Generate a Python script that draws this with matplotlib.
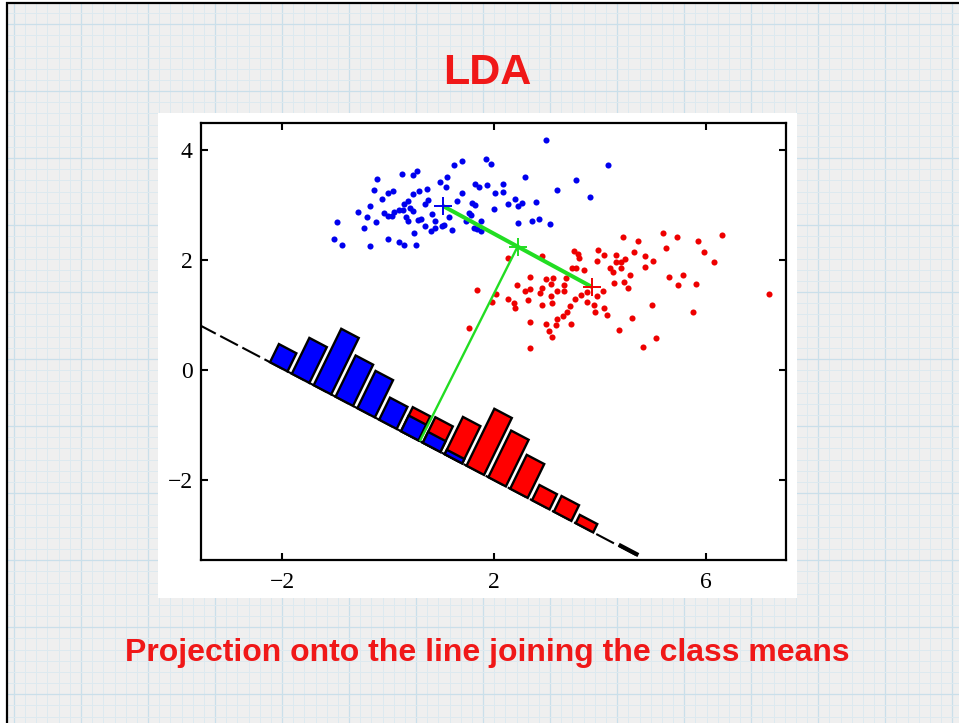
import numpy as np
import matplotlib
matplotlib.use("Agg")
import matplotlib.pyplot as plt
from matplotlib.patches import Polygon

# ---------------- data ----------------
blue_x = [1.39, 1.25, -0.20, 0.27, 0.47, 0.55, 0.98, 1.11, -0.26, -0.01, 0.09, -0.11, 0.48, 0.58,
          0.74, 1.09, -0.35, -0.57, -0.40, -0.23, -0.08, -0.01, 0.07, 0.12, 0.21, 0.28, 0.31, 0.38,
          0.41, 0.47, 0.33, 0.37, 0.56, 0.62, 0.69, 0.75, 0.82, 0.89, 1.15, 1.30, 1.40, 1.53, 1.48,
          -0.96, -0.45, 0.69, 0.81, 0.89, 1.01, 1.06, 1.21, 0.49, -1.02, -0.86, -0.34, 0.00, 0.20,
          0.30, 0.52,
          2.98, 1.85, 1.94, 4.16, 2.58, 3.55, 1.64, 1.72, 1.86, 2.16, 2.02, 2.16, 3.19, 3.81, 2.40,
          2.27, 2.46, 2.53, 2.79, 1.58, 1.65, 1.99, 1.57, 1.76, 2.46, 2.72, 2.85, 3.05, 1.62, 1.75,
          1.67]
blue_y = [3.80, 3.72, 3.48, 3.56, 3.55, 3.62, 3.42, 3.51, 3.27, 3.22, 3.25, 3.11, 3.20, 3.26,
          3.29, 3.33, 2.99, 2.88, 2.78, 2.70, 2.85, 2.80, 2.80, 2.87, 2.91, 2.91, 3.01, 3.08,
          2.95, 2.90, 2.78, 2.71, 2.73, 2.75, 3.01, 3.10, 2.84, 2.71, 2.78, 3.07, 3.21, 2.86, 2.71,
          2.69, 2.58, 2.62, 2.52, 2.58, 2.62, 2.64, 2.55, 2.50, 2.39, 2.28, 2.25, 2.38, 2.32,
          2.28, 2.27,
          4.18, 3.84, 3.74, 3.72, 3.51, 3.45, 3.39, 3.33, 3.36, 3.39, 3.21, 3.23, 3.27, 3.15, 3.11,
          3.02, 2.98, 3.03, 3.05, 3.04, 3.00, 2.92, 2.82, 2.71, 2.67, 2.71, 2.74, 2.66, 2.59, 2.53,
          2.57]

red_x = [2.27, 2.91, 3.51, 3.59, 3.97, 4.08, 4.31, 3.95, 3.60, 3.47, 3.55, 3.70, 4.18, 4.25, 4.31,
         2.67, 2.98, 3.12, 3.36, 2.44, 2.58, 2.68, 2.90, 3.07, 3.18, 3.32, 3.32, 2.87, 3.07, 3.64,
         3.76, 3.94, 4.05, 4.26, 1.67, 2.03, 1.97, 2.27, 2.38, 2.40, 2.64, 2.91, 3.10, 3.43, 3.37,
         3.31, 3.52, 3.76, 3.89, 3.91, 4.08, 4.13, 3.19, 3.17, 2.99, 3.04, 3.09, 3.45, 2.67, 1.53,
         2.68,
         4.44, 4.72, 5.18, 5.45, 5.85, 6.31, 5.24, 5.97, 4.65, 4.84, 5.00, 6.15, 4.48, 4.40, 4.40,
         4.85, 4.57, 5.30, 5.57, 5.48, 5.82, 4.46, 4.52, 7.19, 4.99, 5.75, 4.61, 4.36, 5.05, 4.82]
red_y = [2.03, 2.08, 2.17, 2.11, 2.19, 2.10, 2.10, 1.98, 2.04, 1.85, 1.86, 1.82, 1.86, 1.78, 1.96,
         1.69, 1.65, 1.67, 1.68, 1.55, 1.44, 1.47, 1.50, 1.56, 1.44, 1.55, 1.44, 1.41, 1.35, 1.36,
         1.42, 1.35, 1.44, 1.58, 1.45, 1.38, 1.24, 1.29, 1.22, 1.12, 1.27, 1.18, 1.22, 1.16, 1.05,
         0.99, 1.29, 1.23, 1.19, 1.06, 1.13, 1.00, 0.93, 0.82, 0.84, 0.71, 0.60, 0.84, 0.88, 0.77,
         0.41,
         2.41, 2.35, 2.49, 2.42, 2.35, 2.46, 2.22, 2.14, 2.15, 2.08, 1.99, 1.96, 2.02, 1.97, 1.86,
         1.87, 1.73, 1.70, 1.73, 1.54, 1.56, 1.60, 1.50, 1.38, 1.18, 1.06, 0.95, 0.73, 0.59, 0.42]

blue_mean = (1.04, 2.98)
red_mean = (3.85, 1.51)
proj_foot = (0.60, -1.29)      # where the green perpendicular meets the projection line
proj_slope = -0.507            # slope of the projection line
proj_end = 4.60                # end of the dashed line (distance along the line from the foot)

bin_start = -3.17              # along-line position of the first bin
bin_step = 0.462
bar_width = 0.37
blue_hist = [0.37, 0.73, 1.15, 0.84, 0.76, 0.45, 0.32, 0.22, 0.09, 0, 0, 0, 0, 0, 0, 0, 0]
red_hist = [0, 0, 0, 0, 0, 0, 0.49, 0.52, 0.76, 1.16, 0.95, 0.69, 0.31, 0.32, 0.17, 0, 0.035]

x_ticks = [-2, 2, 6]
y_ticks = [-2, 0, 2, 4]
x_lim = (-3.53, 7.51)
y_lim = (-3.45, 4.49)

title = "LDA"
caption = "Projection onto the line joining the class means"

# ---------------- figure ----------------
W, H = 959, 723
fig = plt.figure(figsize=(W / 100, H / 100), dpi=100)
fig.patch.set_facecolor("white")

# slide background with graph-paper grid
bg = fig.add_axes([0, 0, 1, 1], zorder=-10)
bg.set_xlim(0, W)
bg.set_ylim(H, 0)
bg.axis("off")
bg.add_patch(plt.Rectangle((7, 3), W, H, facecolor="#efefef", edgecolor="none"))
step = 11.17
for j in range(-1, 90):
    xv = 81 + step * (j - 7)
    if 7 < xv < W:
        major = (j - 7) % 6 == 0
        bg.plot([xv, xv], [3, H], color="#cadfea" if major else "#dde9ef",
                lw=0.9 if major else 0.7, zorder=1)
for j in range(-1, 70):
    yv = 24 + step * (j - 2)
    if 3 < yv < H:
        major = (j - 2) % 6 == 0
        bg.plot([7, W], [yv, yv], color="#cadfea" if major else "#dde9ef",
                lw=0.9 if major else 0.7, zorder=1)
bg.plot([6.7, 6.7], [2, H], color="black", lw=1.6, zorder=3, solid_capstyle="butt")
bg.plot([5.9, W], [2.7, 2.7], color="black", lw=1.6, zorder=3, solid_capstyle="butt")
# white panel behind the plot
bg.add_patch(plt.Rectangle((158, 113), 639, 485, facecolor="white", edgecolor="none", zorder=2))

red_txt = "#f01818"
fig.text(0.508, 0.899, title, ha="center", va="center", color=red_txt,
         fontsize=31, fontweight="bold", family="Liberation Sans")
fig.text(0.508, 0.097, caption, ha="center", va="center", color=red_txt,
         fontsize=23, fontweight="bold", family="Liberation Sans")

# ---------------- main axes ----------------
ax = fig.add_axes([201 / W, 1 - 560 / H, 585 / W, 437 / H])
ax.set_facecolor("white")
ax.set_xlim(*x_lim)
ax.set_ylim(*y_lim)

ax.plot(blue_x, blue_y, "o", color="#0000ee", ms=4.4, mec="none", zorder=3)
ax.plot(red_x, red_y, "o", color="#ee0000", ms=4.4, mec="none", zorder=3)

u = np.array([1.0, proj_slope])
u = u / np.linalg.norm(u)
nvec = np.array([-u[1], u[0]])
foot = np.array(proj_foot)

# dashed projection line
t_line = np.array([-9.0, proj_end])
pts = foot[None, :] + t_line[:, None] * u[None, :]
ax.plot(pts[:, 0], pts[:, 1], color="black", lw=1.5,
        linestyle=(0, (9.6, 2.4)), zorder=4)


def bar(t0, h, color):
    c = [foot + t0 * u, foot + (t0 + bar_width) * u,
         foot + (t0 + bar_width) * u + h * nvec, foot + t0 * u + h * nvec]
    ax.add_patch(Polygon(c, closed=True, facecolor=color, edgecolor="black",
                         lw=1.7, joinstyle="miter", zorder=5))


for k, h in enumerate(red_hist):
    if h > 0:
        bar(bin_start + bin_step * k, h, "#ff0000")
for k, h in enumerate(blue_hist):
    if h > 0:
        bar(bin_start + bin_step * k, h, "#0000ff")

mid = (np.array(blue_mean) + np.array(red_mean)) / 2
green = "#22dd22"
ax.plot([blue_mean[0], red_mean[0]], [blue_mean[1], red_mean[1]], color=green, lw=2.9, zorder=6,
        solid_capstyle="butt")
ax.plot([mid[0], foot[0]], [mid[1], foot[1]], color=green, lw=1.7, zorder=6, solid_capstyle="butt")
ax.plot(*blue_mean, "+", color="#0000ee", ms=13, mew=1.4, zorder=7)
ax.plot(*red_mean, "+", color="#ee0000", ms=13, mew=1.4, zorder=7)
ax.plot(*mid, "+", color=green, ms=13, mew=1.4, zorder=7)

ax.set_xticks(x_ticks)
ax.set_yticks(y_ticks)
ax.set_xticklabels([str(v).replace("-", "\u2212") for v in x_ticks])
ax.set_yticklabels([str(v).replace("-", "\u2212") for v in y_ticks])
ax.tick_params(direction="in", length=5, width=1.5, top=True, right=True,
               labelsize=17, colors="black")
ax.tick_params(axis="x", pad=9)
ax.tick_params(axis="y", pad=6)
for lab in ax.get_xticklabels() + ax.get_yticklabels():
    lab.set_family("Liberation Serif")
for s in ax.spines.values():
    s.set_linewidth(1.6)

fig.savefig("out.png", dpi=100)
